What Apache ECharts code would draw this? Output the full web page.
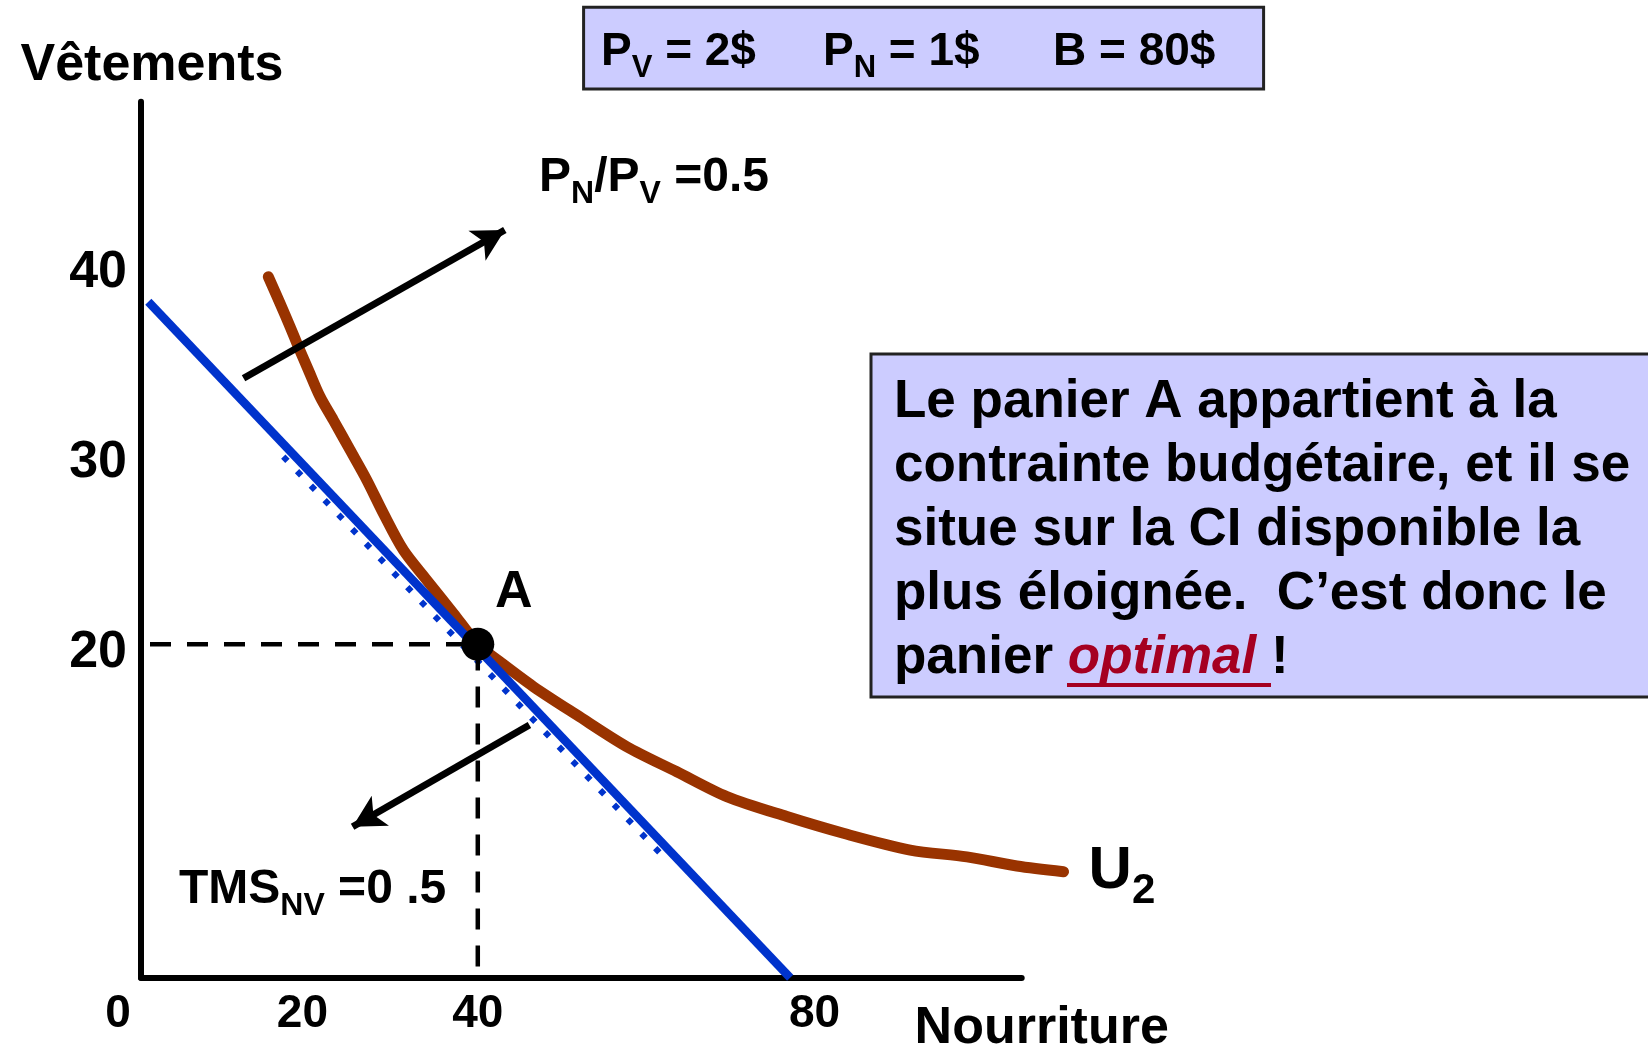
<!DOCTYPE html>
<html>
<head>
<meta charset="utf-8">
<script src="https://cdn.jsdelivr.net/npm/echarts@6/dist/echarts.min.js"></script>
<style>
  html, body { margin: 0; padding: 0; background: #fff; }
  #chart { width: 1648px; height: 1047px; }
</style>
</head>
<body>
<div id="chart"></div>
<script>
const font = '"Liberation Sans", Arial, sans-serif';

// axes
const xTicks = [0, 20, 40, 80];
const yTicks = [20, 30, 40];
const xMax = 104.6;
const yMin = 2.45;
const yMax = 48.56;

// courbe d'indifférence U2
const curveN = [15.12, 16.51, 17.70, 18.69, 19.88, 21.27, 22.85, 24.83, 26.81, 28.79, 31.16, 33.94, 37.10, 40.00, 42.65, 46.61, 51.76, 57.70, 63.64, 69.58, 76.71, 83.43, 91.36, 98.09, 104.03, 109.57];
const curveV = [39.35, 37.95, 36.72, 35.66, 34.44, 33.03, 31.80, 30.23, 28.65, 26.89, 24.96, 23.38, 21.63, 20.00, 19.07, 17.77, 16.28, 14.61, 13.29, 11.98, 10.93, 10.05, 9.17, 8.81, 8.33, 8.03];

// contrainte budgétaire
const budgetN = [0.87, 77.1];
const budgetV = [38.03, 2.45];
const hatchN = [16.9, 61.7];
const hatchV = [29.88, 8.98];

// panier A et pointillés
const pointA = [40, 20];
const guideN = [1.07, 40, 40];
const guideV = [20, 20, 2.45];

// flèches
const arrowUp = [[12.18, 34.0], [43.21, 41.81]];
const arrowDown = [[46.13, 15.75], [25.13, 10.4]];

const zip = (a, b) => a.map((v, i) => [v, b[i]]);

const bold = (size) => ({ fontSize: size, fontWeight: 'bold', fontFamily: font, color: '#000', fill: '#000' });

const subText = (x, y, text, main, sub, shift) => ({
  type: 'text',
  x: x,
  y: y,
  style: {
    text: text,
    align: 'left', textAlign: 'left',
    verticalAlign: 'middle', textVerticalAlign: 'middle',
    fontSize: main, fontWeight: 'bold', fontFamily: font, fill: '#000',
    rich: {
      m: Object.assign(bold(main), { lineHeight: main }),
      s: Object.assign(bold(sub), { lineHeight: sub, padding: [shift * 2, 0, 0, 0] })
    }
  }
});

// the curve runs past the end of the drawn x axis: a second, wider grid with the same scale
const grid0 = { left: 141, right: 626.3, top: 101.7, bottom: 69.3 };
const grid1 = { left: 141, right: 480, top: 101.7, bottom: 69.3 };
const xMax1 = xMax * (1648 - grid1.left - grid1.right) / (1648 - grid0.left - grid0.right);

var myChart = echarts.init(document.getElementById('chart'));
myChart.setOption({
  animation: false,
  backgroundColor: '#fff',
  grid: [
    Object.assign({ containLabel: false, outerBoundsMode: 'none' }, grid0),
    Object.assign({ containLabel: false, outerBoundsMode: 'none' }, grid1)
  ],
  xAxis: [{
    type: 'value',
    gridIndex: 0,
    min: 0,
    max: xMax,
    name: 'Nourriture',
    nameLocation: 'end',
    nameGap: 20,
    nameMoveOverlap: false,
    nameTextStyle: Object.assign(bold(52), { align: 'center', verticalAlign: 'top', lineHeight: 52, padding: [25, 0, 0, 0] }),
    axisLine: { onZero: false, lineStyle: { color: '#000', width: 6 } },
    axisTick: { show: false },
    splitLine: { show: false },
    axisLabel: Object.assign(bold(46), {
      customValues: xTicks,
      margin: 14,
      lineHeight: 46,
      formatter: (v) => v === 0 ? '{o|0}' : v === 20 ? '{t|20}' : String(v),
      rich: {
        o: Object.assign(bold(46), { lineHeight: 46, padding: [0, 46, 0, 0] }),
        t: Object.assign(bold(46), { lineHeight: 46, padding: [0, 14, 0, 0] })
      }
    })
  }, {
    type: 'value',
    gridIndex: 1,
    min: 0,
    max: xMax1,
    show: false
  }],
  yAxis: [{
    type: 'value',
    gridIndex: 0,
    min: yMin,
    max: yMax,
    name: 'Vêtements',
    nameLocation: 'end',
    nameGap: 10,
    nameMoveOverlap: false,
    nameTextStyle: Object.assign(bold(52), { align: 'center', verticalAlign: 'bottom', lineHeight: 52, padding: [0, 0, 0, 22] }),
    axisLine: { onZero: false, lineStyle: { color: '#000', width: 6 } },
    axisTick: { show: false },
    splitLine: { show: false },
    axisLabel: Object.assign(bold(52), {
      customValues: yTicks,
      margin: 14,
      lineHeight: 52,
      formatter: (v) => '{v|' + v + '}',
      rich: { v: Object.assign(bold(52), { lineHeight: 52, padding: [16, 0, 0, 0] }) }
    })
  }, {
    type: 'value',
    gridIndex: 1,
    min: yMin,
    max: yMax,
    show: false
  }],
  series: [
    {
      name: 'U2',
      type: 'line',
      xAxisIndex: 1,
      yAxisIndex: 1,
      data: zip(curveN, curveV),
      showSymbol: false,
      smooth: 0.3,
      z: 2,
      lineStyle: { color: '#993300', width: 11, cap: 'round', join: 'round' },
      endLabel: {
        show: true,
        distance: 25,
        formatter: () => '{u|U}{s|2}',
        rich: {
          u: Object.assign(bold(60), { lineHeight: 60 }),
          s: Object.assign(bold(42), { lineHeight: 42, padding: [40, 0, 0, 0] })
        }
      }
    },
    {
      name: 'hachures',
      type: 'line',
      data: zip(hatchN, hatchV),
      showSymbol: false,
      z: 3,
      lineStyle: { color: '#0033CC', width: 6, type: [6, 14] }
    },
    {
      name: 'budget',
      type: 'line',
      data: zip(budgetN, budgetV),
      showSymbol: false,
      z: 4,
      lineStyle: { color: '#0033CC', width: 8.5 }
    },
    {
      name: 'guides',
      type: 'line',
      data: zip(guideN, guideV),
      showSymbol: false,
      z: 5,
      lineStyle: { color: '#000', width: 4.5, type: [21, 16] }
    },
    {
      name: 'fleches',
      type: 'line',
      data: [],
      z: 5,
      markLine: {
        silent: true,
        symbol: ['none', 'arrow'],
        symbolSize: [26, 32],
        label: { show: false },
        lineStyle: { color: '#000', width: 7, type: 'solid', opacity: 1 },
        data: [
          [{ coord: arrowUp[0] }, { coord: arrowUp[1] }],
          [{ coord: arrowDown[0] }, { coord: arrowDown[1] }]
        ]
      }
    },
    {
      name: 'A',
      type: 'scatter',
      data: [pointA],
      symbolSize: 33,
      z: 6,
      itemStyle: { color: '#000', opacity: 1 },
      label: Object.assign(bold(52), {
        show: true,
        formatter: 'A',
        position: 'top',
        distance: 9,
        offset: [36, 0],
        lineHeight: 52
      })
    }
  ],
  graphic: [
    {
      type: 'rect',
      shape: { x: 583.6, y: 7.3, width: 680, height: 81.7 },
      style: { fill: '#CCCCFF', stroke: '#222', lineWidth: 3 }
    },
    subText(601, 52, '{m|P}{s|V}{m| = 2$}', 46, 31, 16),
    subText(823, 52, '{m|P}{s|N}{m| = 1$}', 46, 31, 16),
    subText(1053, 52, '{m|B = 80$}', 46, 31, 16),
    subText(539, 178, '{m|P}{s|N}{m|/P}{s|V}{m| =0.5}', 48, 32, 16),
    subText(179, 890, '{m|TMS}{s|NV}{m| =0 .5}', 48, 32, 16),
    {
      type: 'rect',
      shape: { x: 871, y: 354, width: 900, height: 343 },
      style: { fill: '#CCCCFF', stroke: '#222', lineWidth: 3 }
    },
    {
      type: 'text',
      x: 894,
      y: 370,
      style: {
        text: 'Le panier A appartient à la\ncontrainte budgétaire, et il se\nsitue sur la CI disponible la\nplus éloignée.  C’est donc le\npanier {o|optimal }!',
        align: 'left', textAlign: 'left',
        verticalAlign: 'top', textVerticalAlign: 'top',
        fontSize: 53, fontWeight: 'bold', fontFamily: font, fill: '#000',
        lineHeight: 64,
        rich: {
          o: { fontSize: 53, fontWeight: 'bold', fontStyle: 'italic', fontFamily: font, fill: '#A50021', color: '#A50021', lineHeight: 64 }
        }
      }
    },
    {
      type: 'line',
      shape: { x1: 1067, y1: 685, x2: 1271, y2: 685 },
      style: { stroke: '#A50021', lineWidth: 4 }
    }
  ]
});
</script>
</body>
</html>
